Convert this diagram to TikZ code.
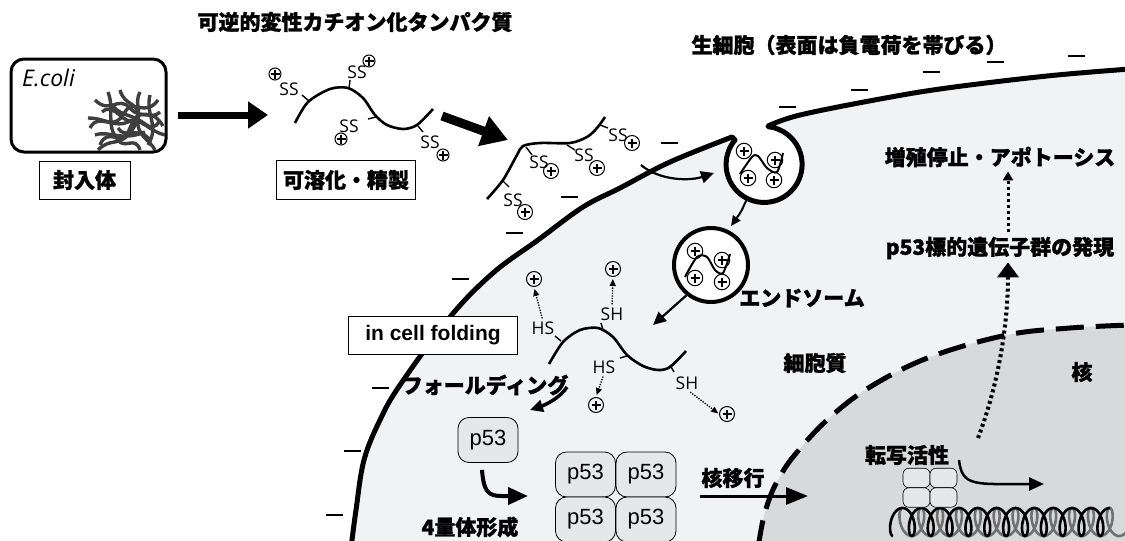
\documentclass[tikz,border=0pt]{standalone}
\usepackage{fontspec}
\setmainfont{Liberation Sans}
\newfontfamily\jpfont{Noto Sans CJK JP}[BoldFeatures={FakeBold=1.3}]
\newfontfamily\tagfont{Open Sans}
\usetikzlibrary{arrows.meta}

\definecolor{cellgrey}{HTML}{F1F2F4}
\definecolor{nucgrey}{HTML}{D8D9DB}
\definecolor{protgrey}{HTML}{E6E7E9}
\definecolor{tanglegrey}{HTML}{3E3E3E}
\definecolor{dnagrey}{HTML}{707070}

\tikzset{
  jp/.style={font=\jpfont\bfseries\fontsize{21}{23}\selectfont, inner sep=1pt},
  jpbox/.style={jp, draw, fill=white, line width=0.8pt, inner sep=0pt, minimum height=38pt},
  tag/.style={font=\tagfont\fontsize{17.5}{17.5}\selectfont, inner sep=0pt},
  pluscirc/.style={circle, draw, line width=1pt, minimum size=15pt, inner sep=0pt,
    path picture={
      \draw[line width=1.7pt] ([xshift=-4.5pt]path picture bounding box.center) -- ([xshift=4.5pt]path picture bounding box.center);
      \draw[line width=1.7pt] ([yshift=-4.5pt]path picture bounding box.center) -- ([yshift=4.5pt]path picture bounding box.center);}},
  p53box/.style={draw, line width=0.8pt, fill=protgrey, rounded corners=11pt, minimum width=60pt,
    minimum height=45pt, inner sep=0pt, font=\fontsize{22}{22}\selectfont},
  minibox/.style={draw, line width=0.6pt, fill=protgrey, rounded corners=6pt, minimum width=27pt,
    minimum height=19.5pt, inner sep=0pt},
  vesicle/.style={circle, draw, line width=4pt, fill=white, minimum size=74pt, inner sep=0pt},
  chain/.style={line width=2.6pt},
  sidechain/.style={line width=1.4pt},
  minus/.style={line width=1.3pt},
  membrane/.style={line width=5pt, line join=round},
  tangle/.style={tanglegrey, line width=3.4pt},
  dotarrow/.style={line width=1.3pt, dash pattern=on 1.3pt off 1.3pt, -{Triangle[length=7pt,width=6pt]}},
  thinarrow/.style={line width=2.2pt, -{Triangle[length=13pt,width=12pt]}},
}

% outer membrane of the cell, with the endocytic pit
\newcommand{\membrane}{(351,548) -- plot[smooth,tension=0.6] coordinates {(351,548) (356,510) (364,460) (380,420) (400,385) (450,317) (493,273) (538,240) (583,207) (620,188) (670,162) (732,137)}
  -- (735,140) arc[start angle=220,end angle=-84,radius=38]
  -- plot[smooth,tension=0.6] coordinates {(768,126) (800,115) (880,99) (947,88) (1047,76) (1130,69)}}
\newcommand{\nucleus}{plot[smooth,tension=0.6] coordinates {(758,548) (763,520) (770,497) (778,480) (793,457) (827,420) (870,387) (930,357) (1007,335) (1070,328) (1130,325)}}

\begin{document}
\begin{tikzpicture}[x=1pt,y=-1pt]
\useasboundingbox (0,0) rectangle (1125,541);
\fill[white] (0,0) rectangle (1125,541);

\begin{scope}
  \clip (0,0) rectangle (1125,541);
  \fill[cellgrey] \membrane -- (1130,548) -- cycle;
  \fill[nucgrey] \nucleus -- (1130,548) -- cycle;
  \draw[line width=5pt, dash pattern=on 28pt off 12pt] \nucleus;
  \draw[membrane] \membrane;
  % DNA double helix
  \draw[dnagrey, line width=2.6pt] plot[domain=0:75.4, samples=500, smooth] ({902.4+3*\x-7*sin(\x r)}, {522-14*cos(\x r)});
  \draw[line width=2.6pt] plot[domain=0:72.3, samples=500, smooth] ({893+3*\x-7*sin(\x r)}, {522+14*cos(\x r)});
\end{scope}

% negative surface charges
\foreach \x/\y in {669/143, 569/197, 514/233, 787/107, 859/90, 931/72, 995/62, 1076/56, 460/279, 380/388, 352/451, 334/515}
  \draw[minus] (\x-8.5,\y) -- (\x+8.5,\y);

% headings
\node[jp] (protein) at (355,22) {可逆的変性カチオン化タンパク質};
\node[jp] (livecell) at (849,45) {生細胞（表面は負電荷を帯びる）};

% E. coli with inclusion bodies
\node[draw, line width=3pt, rounded corners=13pt, minimum width=155pt, minimum height=93pt] (ecoli) at (88.5,105.5) {};
\node[anchor=north west, font=\tagfont\itshape\fontsize{23}{23}\selectfont, inner sep=0pt] (ecolitxt) at (22,69) {E.coli};
\draw[tangle] (90,128) .. controls (100,110) and (112,135) .. (125,112) .. controls (133,98) and (145,118) .. (158,100);
\draw[tangle] (95,100) .. controls (110,115) and (118,95) .. (130,108) .. controls (142,122) and (150,105) .. (163,126);
\draw[tangle] (100,145) .. controls (108,125) and (122,150) .. (130,128) .. controls (138,108) and (150,140) .. (160,120);
\draw[tangle] (108,92) .. controls (115,110) and (105,125) .. (118,140) .. controls (125,150) and (135,135) .. (140,150);
\draw[tangle] (120,90) .. controls (125,108) and (140,100) .. (138,120) .. controls (136,135) and (150,140) .. (155,150);
\draw[tangle] (88,118) .. controls (105,118) and (115,128) .. (128,122) .. controls (140,116) and (150,132) .. (165,135);
\draw[tangle] (140,92) .. controls (132,108) and (148,112) .. (128,135) .. controls (118,146) and (110,138) .. (98,150);
\draw[tangle] (150,95) .. controls (145,115) and (160,125) .. (148,145);
\draw[tangle] (95,135) .. controls (110,130) and (120,142) .. (145,132);
\draw[tangle] (112,105) .. controls (122,118) and (132,112) .. (150,128);
\draw[tangle] (102,112) .. controls (115,100) and (125,130) .. (135,118) .. controls (142,110) and (152,120) .. (160,112);
\draw[tangle] (118,128) .. controls (125,140) and (138,125) .. (150,140);
\node[jpbox, minimum width=91pt] (inclusion) at (84.5,180) {封入体};

\coordinate (chain1in) at (268,115);
\draw[line width=7pt, -{Triangle[length=20pt,width=26pt]}] ([xshift=10pt]ecoli.east |- chain1in) -- (chain1in);

% solubilised cationic protein
\draw[chain] plot[smooth] coordinates {(295,123) (308,102) (330,89) (348,88) (363,98) (375,115) (387,125) (403,129) (417,125) (433,109)};
\draw[sidechain] (309,101) -- (302,95);
\draw[sidechain] (349,89) -- (350,80);
\draw[sidechain] (376,117) -- (368,119);
\draw[sidechain] (418,126) -- (423,132);
\node[tag] (ss1) at (289,89) {SS};
\node[pluscirc, minimum size=12pt] (q1) at (275,74) {};
\node[tag] (ss2) at (357,72) {SS};
\node[pluscirc, minimum size=12pt] (q2) at (369,61) {};
\node[tag] (ss3) at (349,126) {SS};
\node[pluscirc, minimum size=12pt] (q3) at (341,139) {};
\node[tag] (ss4) at (430,142) {SS};
\node[pluscirc, minimum size=12pt] (q4) at (443,155) {};
\node[jpbox, minimum width=139pt, minimum height=39pt] (purify) at (346,180) {可溶化・精製};

\coordinate (a2s) at (442,116);
\coordinate (a2e) at (508,140);
\draw[line width=9pt, -{Triangle[length=26pt,width=30pt]}] (a2s) -- (a2e);

% protein bound to the cell surface
\draw[chain] plot[smooth] coordinates {(487,199) (503,180) (517,155) (523,146) (540,143) (570,143) (587,137) (597,128) (605,117)};
\draw[sidechain] (503,181) -- (509,187);
\draw[sidechain] (526,147) -- (532,155);
\draw[sidechain] (567,145) -- (575,150);
\draw[sidechain] (600,125) -- (608,128);
\node[tag] (ss5) at (513,200) {SS};
\node[pluscirc] (q5) at (525,212) {};
\node[tag] (ss6) at (539,162) {SS};
\node[pluscirc] (q6) at (551,171) {};
\node[tag] (ss7) at (584,155) {SS};
\node[pluscirc] (q7) at (597,168) {};
\node[tag] (ss8) at (618,135) {SS};
\node[pluscirc] (q8) at (632,143) {};

% endocytosis
\node[circle, minimum size=81pt, inner sep=0pt] (pit) at (764,164) {};
\draw[line width=2pt] plot[smooth] coordinates {(740,174) (752,157) (758,156) (767,168) (777,172) (783,153)};
\node[pluscirc, minimum size=15.5pt] (e1) at (744,151) {};
\node[pluscirc, minimum size=15.5pt] (e2) at (775,160) {};
\node[pluscirc, minimum size=15.5pt] (e3) at (748,178) {};
\node[pluscirc, minimum size=15.5pt] (e4) at (774,180) {};
\coordinate (u0) at (641,165);
\draw[thinarrow] (u0) .. controls (660,181) and (690,181) .. (714,173);

\node[vesicle] (endo) at (711,265) {};
\draw[line width=2pt] plot[smooth] coordinates {(685,277) (697,257) (707,257) (715,270) (723,273) (730,254)};
\node[pluscirc, minimum size=15.5pt] (f1) at (695,251) {};
\node[pluscirc, minimum size=15.5pt] (f2) at (722,260) {};
\node[pluscirc, minimum size=15.5pt] (f3) at (695,278) {};
\node[pluscirc, minimum size=15.5pt] (f4) at (722,282) {};
\node[jp] (endosome) at (802,298) {エンドソーム};
\draw[line width=2pt, -{Triangle[length=10pt,width=9pt]}] (pit.244) .. controls (741,212) .. (731,226);

% release into the cytoplasm and refolding
\coordinate (release) at (653,325);
\draw[thinarrow] (endo.231) -- (release);
\node[jpbox, minimum width=169pt, font=\bfseries\fontsize{21}{21}\selectfont] (icf) at (433,335) {in cell folding};
\draw[chain] plot[smooth] coordinates {(549,364) (563,342) (580,330) (598,328) (613,337) (627,355) (643,366) (658,370) (670,367) (686,351)};
\draw[sidechain] (561,341) -- (555,336);
\draw[sidechain] (603,330) -- (601,323);
\draw[sidechain] (627,356) -- (620,358);
\draw[sidechain] (670,365) -- (674,372);
\node[tag] (hs1) at (543,328) {HS};
\node[tag] (sh1) at (612,314) {SH};
\node[tag] (hs2) at (604,367) {HS};
\node[tag] (sh2) at (687,383) {SH};
\node[pluscirc] (r1) at (534,279) {};
\node[pluscirc] (r2) at (613,269) {};
\node[pluscirc] (r3) at (596,405) {};
\node[pluscirc] (r4) at (727,414) {};
\draw[dotarrow, shorten <=3pt, shorten >=2pt] (hs1.north) -- (r1.south);
\draw[dotarrow, shorten <=3pt, shorten >=2pt] (sh1.north) -- (r2.south);
\draw[dotarrow, shorten <=3pt, shorten >=2pt] (hs2.south) -- (r3.north);
\draw[dotarrow, shorten <=4pt, shorten >=1pt] (sh2.south) -- (r4.west);
\node[jp] (folding) at (485,385) {フォールディング};
\draw[line width=3.5pt, -{Triangle[length=13pt,width=12pt]}] (567,387) .. controls (560,398) and (545,405) .. (530,410);

% tetramer formation
\node[p53box] (mono) at (488,440) {p53};
\node[p53box] (t1) at (585.5,474.5) {p53};
\node[p53box] (t2) at (646,474.5) {p53};
\node[p53box] (t3) at (585.5,519.5) {p53};
\node[p53box] (t4) at (646,519.5) {p53};
\coordinate (tetin) at (528,496);
\draw[line width=4pt, -{Triangle[length=20pt,width=17pt]}] ([xshift=-6pt,yshift=-7pt]mono.south) .. controls (484,498) and (492,496) .. (tetin);
\node[jp] (tetramer) at (470,527) {4量体形成};

% nuclear import and transcription
\node[jp] (import) at (733,478) {核移行};
\coordinate (impend) at (808,496);
\draw[line width=3pt, -{Triangle[length=22pt,width=17pt]}] (import.south west |- impend) -- (impend);
\node[jp] (cytoplasm) at (815,363) {細胞質};
\node[jp] (nuc) at (1082,372) {核};
\node[jp] (transact) at (907,455) {転写活性};
\node[minibox] (m1) at (916.5,478) {};
\node[minibox] (m2) at (943.5,478) {};
\node[minibox] (m3) at (916.5,497.5) {};
\node[minibox] (m4) at (943.5,497.5) {};
\coordinate (txend) at (1044,484);
\draw[line width=2.5pt, -{Triangle[length=15pt,width=13pt]}] (959,460) .. controls (962,487) and (975,484) .. (txend);

% downstream effects
\node[jp] (target) at (1000,248) {p53標的遺伝子群の発現};
\node[jp] (apoptosis) at (1000,157) {増殖停止・アポトーシス};
\draw[line width=4pt, dash pattern=on 3pt off 3pt, -{Triangle[length=15pt,width=21pt]}] (978,438) .. controls (1000,380) and (1008,320) .. ([xshift=8pt,yshift=-2pt]target.south);
\draw[line width=3pt, dash pattern=on 3pt off 3pt, -{Triangle[length=9pt,width=10pt]}] ([xshift=8pt,yshift=4pt]target.north) -- ([xshift=8pt,yshift=-3pt]apoptosis.south);
\end{tikzpicture}
\end{document}
